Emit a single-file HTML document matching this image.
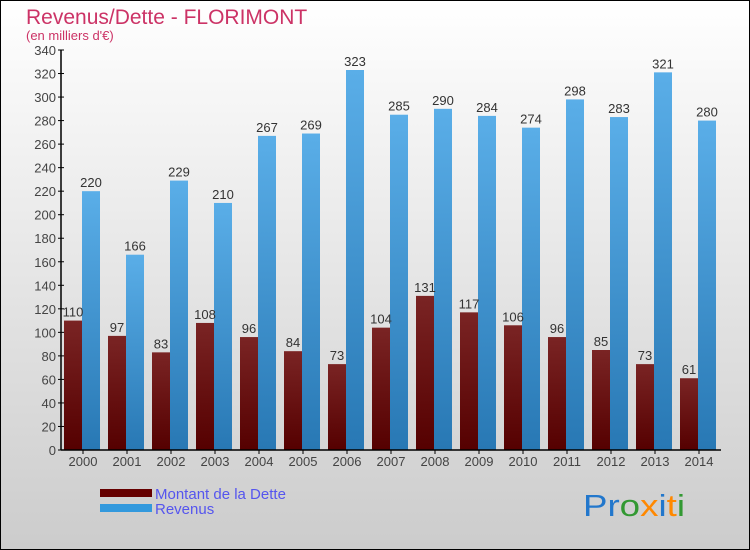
<!DOCTYPE html>
<html><head><meta charset="utf-8"><style>
body{margin:0}
svg{display:block;font-family:"Liberation Sans",sans-serif}
</style></head><body>
<svg width="750" height="550" xmlns="http://www.w3.org/2000/svg">
<defs>
<linearGradient id="bg" x1="0" y1="0" x2="0" y2="1"><stop offset="0" stop-color="#ffffff"/><stop offset="1" stop-color="#cccccc"/></linearGradient>
<linearGradient id="red" x1="0" y1="0" x2="0" y2="1"><stop offset="0" stop-color="#7a2424"/><stop offset="1" stop-color="#550000"/></linearGradient>
<linearGradient id="blue" x1="0" y1="0" x2="0" y2="1"><stop offset="0" stop-color="#5aaee8"/><stop offset="1" stop-color="#2878b4"/></linearGradient>
</defs>
<rect x="0.5" y="0.5" width="749" height="549" fill="url(#bg)" stroke="#000"/>
<text x="26" y="24" font-size="21" fill="#cc3366">Revenus/Dette - FLORIMONT</text>
<text x="26" y="40" font-size="13" fill="#cc3366">(en milliers d'€)</text>
<g id="plot"></g>
<rect x="100" y="489" width="52" height="8" fill="#660000"/>
<rect x="100" y="504" width="52" height="8" fill="#3399dd"/>
<text x="155" y="499" font-size="15" fill="#5555ee">Montant de la Dette</text>
<text x="155" y="514" font-size="15" fill="#5555ee">Revenus</text>
<text x="583" y="516" font-size="31" textLength="102" lengthAdjust="spacingAndGlyphs"><tspan fill="#2277cc">Pr</tspan><tspan fill="#339933">o</tspan><tspan fill="#ff8800">x</tspan><tspan fill="#2277cc">i</tspan><tspan fill="#ff8800">t</tspan><tspan fill="#339933">i</tspan></text>
</svg>
<script>
const years=["2000","2001","2002","2003","2004","2005","2006","2007","2008","2009","2010","2011","2012","2013","2014"];
const dette=[110,97,83,108,96,84,73,104,131,117,106,96,85,73,61];
const revenus=[220,166,229,210,267,269,323,285,290,284,274,298,283,321,280];
const ticks=[0,20,40,60,80,100,120,140,160,180,200,220,240,260,280,300,320,340];
const NS="http://www.w3.org/2000/svg";
const g=document.getElementById('plot');
const x0=61,x1=721,y0=450,ymax=340,ph=400;
const step=(x1-x0)/years.length;
const y=v=>y0-v/ymax*ph;
function mk(t,a){const e=document.createElementNS(NS,t);for(const k in a)e.setAttribute(k,a[k]);g.appendChild(e);return e;}
ticks.forEach(t=>{
 const l=mk('line',{x1:x0-3,x2:x0+3,y1:y(t),y2:y(t),stroke:'#000'});
 
 
 const tx=mk('text',{x:x0-5,y:y(t)+5,'font-size':13,fill:'#444','text-anchor':'end'});
 tx.textContent=t;
 
 
});
years.forEach((yr,i)=>{
 const gx=x0+i*step;
 const b1=mk('rect',{x:gx+3,y:y(dette[i]),width:18,height:y0-y(dette[i]),fill:'url(#red)'});
 
 
 const b2=mk('rect',{x:gx+21,y:y(revenus[i]),width:18,height:y0-y(revenus[i]),fill:'url(#blue)'});
 
 
 const t1=mk('text',{x:gx+12,y:y(dette[i])-4,'font-size':13,fill:'#333','text-anchor':'middle'});
 t1.textContent=dette[i];
 
 
 const t2=mk('text',{x:gx+30,y:y(revenus[i])-4,'font-size':13,fill:'#333','text-anchor':'middle'});
 t2.textContent=revenus[i];
 
 
 const tk=mk('line',{x1:gx+step/2,x2:gx+step/2,y1:y0,y2:y0+4,stroke:'#000'});
 
 
 const xl=mk('text',{x:gx+step/2,y:y0+16,'font-size':13,fill:'#444','text-anchor':'middle'});
 xl.textContent=yr;
 
 
});
const ya=mk('line',{x1:x0,x2:x0,y1:y(ymax),y2:y0,stroke:'#000','stroke-width':1.5});


const xa=mk('line',{x1:x0,x2:x1,y1:y0,y2:y0,stroke:'#000','stroke-width':1.5});


</script>
</body></html>
